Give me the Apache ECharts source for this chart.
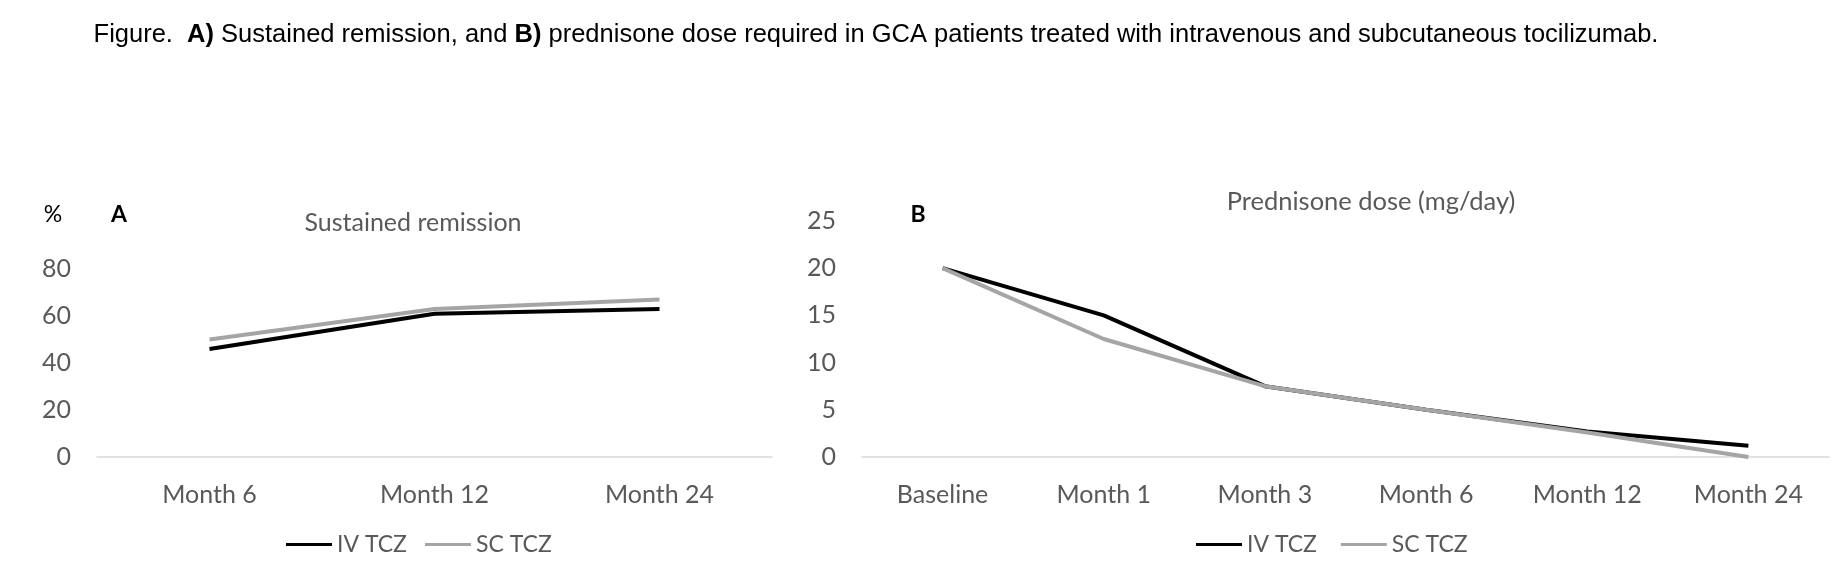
<!DOCTYPE html>
<html>
<head>
<meta charset="utf-8">
<script src="https://cdn.jsdelivr.net/npm/echarts@6/dist/echarts.min.js"></script>
<style>html,body{margin:0;padding:0;background:#fff}#c{width:1832px;height:584px}</style>
</head>
<body>
<div id="c"></div>
<script>
// Data
var catsA = ['Month 6', 'Month 12', 'Month 24'];
var ivA = [46, 61, 63];
var scA = [50, 63, 67];
var catsB = ['Baseline', 'Month 1', 'Month 3', 'Month 6', 'Month 12', 'Month 24'];
var ivB = [20, 15, 7.5, 5, 2.7, 1.2];
var scB = [20, 12.5, 7.5, 5, 2.6, 0];
var ticksA = [0, 20, 40, 60, 80];
var ticksB = [0, 5, 10, 15, 20, 25];

var F = 'Lato, "Open Sans", sans-serif';
var labelColor = '#595959';
var chart = echarts.init(document.getElementById('c'));

function xAx(idx, cats) {
  return {
    type: 'category', gridIndex: idx, data: cats, boundaryGap: true,
    axisLine: {lineStyle: {color: '#d9d9d9', width: 1.5}},
    axisTick: {show: false},
    axisLabel: {color: labelColor, fontFamily: F, fontSize: 25, margin: 25}
  };
}
function yAx(idx, max, interval) {
  return {
    type: 'value', gridIndex: idx, min: 0, max: max, interval: interval,
    axisLine: {show: false}, axisTick: {show: false}, splitLine: {show: false},
    axisLabel: {color: labelColor, fontFamily: F, fontSize: 25, margin: 26}
  };
}
function ser(name, data, xi, color) {
  return {
    name: name, type: 'line', xAxisIndex: xi, yAxisIndex: xi, data: data,
    showSymbol: false, symbol: 'none', lineStyle: {color: color, width: 4}, itemStyle: {color: color},
    animation: false
  };
}

chart.setOption({
  animation: false,
  title: [
    {text: 'Figure.  {b|A)} Sustained remission, and {b|B)} prednisone dose required in GCA patients treated with intravenous and subcutaneous tocilizumab.',
     left: 876, top: 22, textAlign: 'center', padding: 0,
     textStyle: {fontFamily: '"Liberation Sans", Arial, sans-serif', fontSize: 25.5, fontWeight: 'normal', color: '#000',
       rich: {b: {fontFamily: '"Liberation Sans", Arial, sans-serif', fontSize: 25.5, fontWeight: 'bold', color: '#000'}}}},
    {text: 'Sustained remission', left: 413, top: 210, textAlign: 'center', padding: 0,
     textStyle: {fontFamily: F, fontSize: 25, fontWeight: 'normal', color: labelColor}},
    {text: 'Prednisone dose (mg/day)', left: 1371, top: 189, textAlign: 'center', padding: 0,
     textStyle: {fontFamily: F, fontSize: 25.5, fontWeight: 'normal', color: labelColor}},
    {text: '%', left: 53, top: 203, textAlign: 'center', padding: 0,
     textStyle: {fontFamily: F, fontSize: 23, fontWeight: 'normal', color: '#000'}},
    {text: 'A', left: 119, top: 203, textAlign: 'center', padding: 0,
     textStyle: {fontFamily: F, fontSize: 23, fontWeight: 'bold', color: '#000'}},
    {text: 'B', left: 918, top: 203, textAlign: 'center', padding: 0,
     textStyle: {fontFamily: F, fontSize: 23, fontWeight: 'bold', color: '#000'}}
  ],
  legend: [
    {data: ['IV TCZ', 'SC TCZ'], left: 286, top: 533, padding: 0, icon: 'rect', itemWidth: 46, itemHeight: 3, itemGap: 18,
     textStyle: {fontFamily: F, fontSize: 23, color: labelColor}},
    {data: ['IV TCZ ', 'SC TCZ '], left: 1196, top: 533, padding: 0, icon: 'rect', itemWidth: 46, itemHeight: 3, itemGap: 18,
     textStyle: {fontFamily: F, fontSize: 23, color: labelColor}}
  ],
  grid: [
    {left: 97, top: 269, width: 675, height: 188},
    {left: 862, top: 221, width: 967, height: 236}
  ],
  xAxis: [xAx(0, catsA), xAx(1, catsB)],
  yAxis: [yAx(0, ticksA[ticksA.length - 1], ticksA[1] - ticksA[0]), yAx(1, ticksB[ticksB.length - 1], ticksB[1] - ticksB[0])],
  series: [
    ser('IV TCZ', ivA, 0, '#000000'),
    ser('SC TCZ', scA, 0, '#a5a5a5'),
    ser('IV TCZ ', ivB, 1, '#000000'),
    ser('SC TCZ ', scB, 1, '#a5a5a5')
  ]
});
</script>
</body>
</html>
